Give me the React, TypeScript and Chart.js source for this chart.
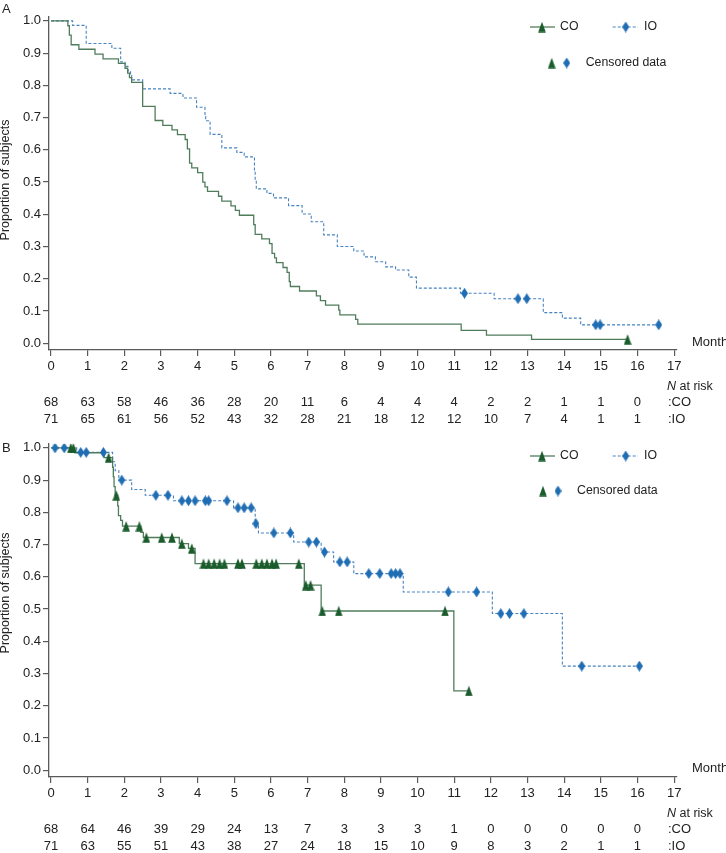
import React, { useEffect, useRef } from 'react';
import { Chart, registerables } from 'chart.js';

Chart.register(...registerables);

// ---------- data ----------
const MONTH_TICKS = [0, 1, 2, 3, 4, 5, 6, 7, 8, 9, 10, 11, 12, 13, 14, 15, 16, 17];
const Y_TICKS = [0.0, 0.1, 0.2, 0.3, 0.4, 0.5, 0.6, 0.7, 0.8, 0.9, 1.0];

// Panel A
const CO_A_TIMES = [0, 0.46, 0.5, 0.55, 0.76, 1.2, 1.42, 1.84, 2.02, 2.09, 2.14, 2.2, 2.5, 2.84, 3.05, 3.3, 3.45, 3.66, 3.72, 3.78, 3.84, 4.0, 4.14, 4.2, 4.27, 4.57, 4.66, 4.91, 5.03, 5.14, 5.53, 5.57, 5.75, 5.96, 6.03, 6.1, 6.15, 6.33, 6.44, 6.5, 6.53, 6.78, 7.24, 7.35, 7.49, 7.85, 7.88, 8.31, 8.37, 11.19, 11.88, 13.11];
const CO_A_SURV = [1.0, 0.985, 0.956, 0.926, 0.912, 0.897, 0.882, 0.868, 0.853, 0.838, 0.824, 0.809, 0.735, 0.691, 0.676, 0.662, 0.647, 0.632, 0.603, 0.559, 0.544, 0.529, 0.5, 0.485, 0.471, 0.456, 0.441, 0.426, 0.412, 0.397, 0.368, 0.338, 0.324, 0.309, 0.279, 0.265, 0.25, 0.235, 0.22, 0.191, 0.176, 0.162, 0.147, 0.132, 0.118, 0.103, 0.088, 0.074, 0.059, 0.04, 0.025, 0.012];
const CO_A_CENSOR = [15.73];

const IO_A_TIMES = [0, 0.59, 0.96, 1.66, 1.9, 2.02, 2.1, 2.17, 2.2, 2.5, 3.25, 3.6, 3.97, 4.2, 4.22, 4.34, 4.66, 5.07, 5.27, 5.55, 5.57, 5.6, 5.89, 6.07, 6.48, 6.85, 7.1, 7.44, 7.81, 8.26, 8.54, 8.85, 9.13, 9.4, 9.76, 9.97, 11.17, 12.09, 13.43, 13.95, 14.45];
const IO_A_SURV = [1.0, 0.986, 0.93, 0.915, 0.873, 0.859, 0.845, 0.831, 0.817, 0.789, 0.775, 0.761, 0.732, 0.704, 0.69, 0.648, 0.606, 0.592, 0.578, 0.535, 0.507, 0.479, 0.465, 0.451, 0.427, 0.401, 0.377, 0.336, 0.3, 0.286, 0.268, 0.253, 0.237, 0.227, 0.205, 0.171, 0.155, 0.138, 0.095, 0.078, 0.057];
const IO_A_CENSOR = [11.28, 12.74, 12.98, 14.86, 14.98, 16.58];

const RISK_CO_A = [68, 63, 58, 46, 36, 28, 20, 11, 6, 4, 4, 4, 2, 2, 1, 1, 0];
const RISK_IO_A = [71, 65, 61, 56, 52, 43, 32, 28, 21, 18, 12, 12, 10, 7, 4, 1, 1];

// Panel B
const CO_B_TIMES = [0, 0.65, 1.45, 1.68, 1.7, 1.72, 1.75, 1.82, 1.84, 1.9, 1.95, 2.45, 2.52, 3.5, 3.75, 3.93, 6.91, 7.37, 10.99];
const CO_B_SURV = [1.0, 0.985, 0.97, 0.94, 0.91, 0.88, 0.853, 0.82, 0.79, 0.775, 0.757, 0.738, 0.722, 0.703, 0.688, 0.641, 0.574, 0.494, 0.246];
const CO_B_CENSOR = [0.54, 0.61, 1.57, 1.78, 2.05, 2.41, 2.6, 3.02, 3.3, 3.57, 3.84, 4.16, 4.3, 4.45, 4.6, 4.73, 5.1, 5.21, 5.6, 5.75, 5.89, 6.03, 6.14, 6.76, 6.95, 7.08, 7.4, 7.85, 10.75, 11.4];

const IO_B_TIMES = [0, 0.7, 1.68, 1.75, 1.85, 2.2, 2.57, 3.34, 4.98, 5.57, 5.66, 6.62, 7.37, 7.71, 8.26, 9.61, 12.04, 13.95];
const IO_B_SURV = [1.0, 0.986, 0.957, 0.929, 0.9, 0.871, 0.853, 0.836, 0.814, 0.765, 0.736, 0.708, 0.677, 0.646, 0.61, 0.553, 0.486, 0.323];
const IO_B_CENSOR = [0.11, 0.36, 0.81, 0.96, 1.43, 1.93, 2.86, 3.19, 3.57, 3.75, 3.93, 4.21, 4.3, 4.8, 5.1, 5.27, 5.46, 5.59, 6.08, 6.53, 7.03, 7.24, 7.46, 7.88, 8.08, 8.67, 8.97, 9.28, 9.4, 9.52, 10.84, 11.61, 12.27, 12.51, 12.9, 14.48, 16.05];

const RISK_CO_B = [68, 64, 46, 39, 29, 24, 13, 7, 3, 3, 3, 1, 0, 0, 0, 0, 0];
const RISK_IO_B = [71, 63, 55, 51, 43, 38, 27, 24, 18, 15, 10, 9, 8, 3, 2, 1, 1];

// ---------- styles ----------
const FONT = '"Liberation Sans", Arial, Helvetica, sans-serif';
const TEXT = '#222222';
const AXIS = '#5a5a5a';
const CO_LINE = '#4f7d5c';
const CO_MARK = '#1b5c2c';
const IO_LINE = '#4682c0';
const IO_MARK = '#1f6db3';

function survAt(times: number[], surv: number[], t: number) {
  let s = surv[0];
  for (let i = 0; i < times.length; i++) if (times[i] <= t) s = surv[i];
  return s;
}

function curvePoints(times: number[], surv: number[], censor: number[]) {
  const pts = times.map((t, i) => ({ x: t, y: surv[i] }));
  const end = Math.max(times[times.length - 1], ...censor);
  pts.push({ x: end, y: surv[surv.length - 1] });
  return pts;
}

function censorPoints(times: number[], surv: number[], censor: number[]) {
  return censor.map((t) => ({ x: t, y: survAt(times, surv, t) }));
}

function makeTriangle() {
  const c = document.createElement('canvas');
  c.width = 8; c.height = 11;
  const g = c.getContext('2d')!;
  g.fillStyle = CO_MARK;
  g.beginPath(); g.moveTo(4, 0.3); g.lineTo(7.8, 10.7); g.lineTo(0.2, 10.7); g.closePath(); g.fill();
  return c;
}
function makeDiamond() {
  const c = document.createElement('canvas');
  c.width = 7; c.height = 11;
  const g = c.getContext('2d')!;
  g.fillStyle = IO_MARK;
  g.beginPath(); g.moveTo(3.5, 0); g.lineTo(7, 5.5); g.lineTo(3.5, 11); g.lineTo(0, 5.5); g.closePath(); g.fill();
  return c;
}

type PanelCfg = {
  top: number; height: number; label: string; labelY: number; titleY: number; monthY: number;
  legendY1: number; legendY2: number; censorX: number;
  riskCO: number[]; riskIO: number[];
  co: { t: number[]; s: number[]; c: number[] };
  io: { t: number[]; s: number[]; c: number[] };
};

const PANELS: PanelCfg[] = [
  {
    top: 0, height: 427, label: 'A', labelY: 9, titleY: 180, monthY: 342,
    legendY1: 27, legendY2: 63, censorX: 551.7,
    riskCO: RISK_CO_A, riskIO: RISK_IO_A,
    co: { t: CO_A_TIMES, s: CO_A_SURV, c: CO_A_CENSOR },
    io: { t: IO_A_TIMES, s: IO_A_SURV, c: IO_A_CENSOR },
  },
  {
    top: 427, height: 426, label: 'B', labelY: 21, titleY: 166, monthY: 341,
    legendY1: 29, legendY2: 64, censorX: 543,
    riskCO: RISK_CO_B, riskIO: RISK_IO_B,
    co: { t: CO_B_TIMES, s: CO_B_SURV, c: CO_B_CENSOR },
    io: { t: IO_B_TIMES, s: IO_B_SURV, c: IO_B_CENSOR },
  },
];

function Panel({ cfg }: { cfg: PanelCfg }) {
  const ref = useRef<HTMLCanvasElement | null>(null);
  useEffect(() => {
    const canvas = ref.current!;
    const tri = makeTriangle();
    const dia = makeDiamond();
    const H = cfg.height;

    const textPlugin = {
      id: 'panelText',
      afterDraw(chart: any) {
        const ctx = chart.ctx as CanvasRenderingContext2D;
        const xs = chart.scales.x;
        ctx.save();
        ctx.fillStyle = TEXT;
        ctx.textBaseline = 'middle';
        ctx.textAlign = 'left';
        ctx.font = `13px ${FONT}`;
        ctx.fillText(cfg.label, 2, cfg.labelY);

        ctx.save();
        ctx.translate(6, cfg.titleY);
        ctx.rotate(-Math.PI / 2);
        ctx.textAlign = 'center';
        ctx.font = `12.5px ${FONT}`;
        ctx.fillText('Proportion of subjects', 0, 0);
        ctx.restore();

        ctx.font = `13px ${FONT}`;
        ctx.fillText('Month', 692, cfg.monthY);

        ctx.font = `italic 12.5px ${FONT}`;
        ctx.fillText('N', 667, 387);
        const nw = ctx.measureText('N').width;
        ctx.font = `12.5px ${FONT}`;
        ctx.fillText(' at risk', 667 + nw, 387);

        ctx.font = `13px ${FONT}`;
        ctx.textAlign = 'center';
        cfg.riskCO.forEach((n, i) => ctx.fillText(String(n), xs.getPixelForValue(MONTH_TICKS[i]), 402.5));
        cfg.riskIO.forEach((n, i) => ctx.fillText(String(n), xs.getPixelForValue(MONTH_TICKS[i]), 419));
        ctx.textAlign = 'left';
        ctx.fillText(':CO', 668, 402.5);
        ctx.fillText(':IO', 668, 419);

        // legend
        const y1 = cfg.legendY1;
        ctx.strokeStyle = CO_LINE;
        ctx.lineWidth = 1.3;
        ctx.beginPath(); ctx.moveTo(530, y1); ctx.lineTo(555, y1); ctx.stroke();
        ctx.drawImage(tri, 542 - 4, y1 - 5.5);
        ctx.strokeStyle = IO_LINE;
        ctx.lineWidth = 1.1;
        ctx.setLineDash([3, 2]);
        ctx.beginPath(); ctx.moveTo(612.7, y1); ctx.lineTo(638, y1); ctx.stroke();
        ctx.setLineDash([]);
        ctx.drawImage(dia, 625.7 - 3.5, y1 - 5.5);
        ctx.font = `12.3px ${FONT}`;
        ctx.fillText('CO', 560, y1);
        ctx.fillText('IO', 644, y1);
        const y2 = cfg.legendY2;
        ctx.drawImage(tri, cfg.censorX - 4, y2 - 5.5);
        ctx.drawImage(dia, cfg.censorX + 15 - 3.5, y2 - 5.5);
        ctx.fillText('Censored data', cfg.censorX + 34, y2);
        ctx.restore();
      },
    };

    const chart = new Chart(canvas, {
      type: 'line',
      data: {
        datasets: [
          {
            data: curvePoints(cfg.io.t, cfg.io.s, cfg.io.c),
            borderColor: IO_LINE, borderWidth: 1.1, borderDash: [3, 2],
            stepped: 'before', pointRadius: 0, fill: false, order: 4,
          },
          {
            data: curvePoints(cfg.co.t, cfg.co.s, cfg.co.c),
            borderColor: CO_LINE, borderWidth: 1.3,
            stepped: 'before', pointRadius: 0, fill: false, order: 3,
          },
          {
            data: censorPoints(cfg.io.t, cfg.io.s, cfg.io.c),
            showLine: false, pointStyle: dia as any, pointRadius: 4, order: 2,
          },
          {
            data: censorPoints(cfg.co.t, cfg.co.s, cfg.co.c),
            showLine: false, pointStyle: tri as any, pointRadius: 4, order: 1,
          },
        ] as any,
      },
      options: {
        animation: false,
        responsive: false,
        maintainAspectRatio: false,
        events: [],
        layout: { padding: { top: 16.7, right: 49.3, left: 0, bottom: 0 } },
        plugins: { legend: { display: false }, tooltip: { enabled: false } },
        scales: {
          x: {
            type: 'linear',
            min: -0.055,
            max: 17.07,
            afterBuildTicks: (s: any) => { s.ticks = MONTH_TICKS.map((v) => ({ value: v })); },
            afterFit: (s: any) => { s.height = H - 350; s.paddingLeft = 0; s.paddingRight = 0; },
            grid: { drawOnChartArea: false, drawTicks: true, tickLength: 6, color: AXIS, lineWidth: 1.2 },
            border: { display: true, color: AXIS, width: 1.3 },
            ticks: {
              color: TEXT, font: { family: FONT, size: 13 }, padding: 3,
              maxRotation: 0, autoSkip: false,
              callback: (v: any) => String(v),
            },
          },
          y: {
            type: 'linear',
            min: -0.021,
            max: 1.013,
            afterBuildTicks: (s: any) => { s.ticks = Y_TICKS.map((v) => ({ value: v })); },
            afterFit: (s: any) => { s.width = 49; s.paddingTop = 0; s.paddingBottom = 0; },
            grid: { drawOnChartArea: false, drawTicks: true, tickLength: 6, color: AXIS, lineWidth: 1.2 },
            border: { display: true, color: AXIS, width: 1.3 },
            ticks: {
              color: TEXT, font: { family: FONT, size: 13 }, padding: 2,
              autoSkip: false,
              callback: (v: any) => Number(v).toFixed(1),
            },
          },
        },
      } as any,
      plugins: [textPlugin],
    });
    return () => chart.destroy();
  }, [cfg]);

  return (
    <canvas
      ref={ref}
      width={726}
      height={cfg.height}
      style={{ position: 'absolute', left: 0, top: cfg.top, width: 726, height: cfg.height, display: 'block' }}
    />
  );
}

export default function App() {
  return (
    <div style={{ position: 'absolute', left: 0, top: 0, width: 726, height: 853, background: '#ffffff' }}>
      {PANELS.map((p) => (
        <Panel key={p.label} cfg={p} />
      ))}
    </div>
  );
}
